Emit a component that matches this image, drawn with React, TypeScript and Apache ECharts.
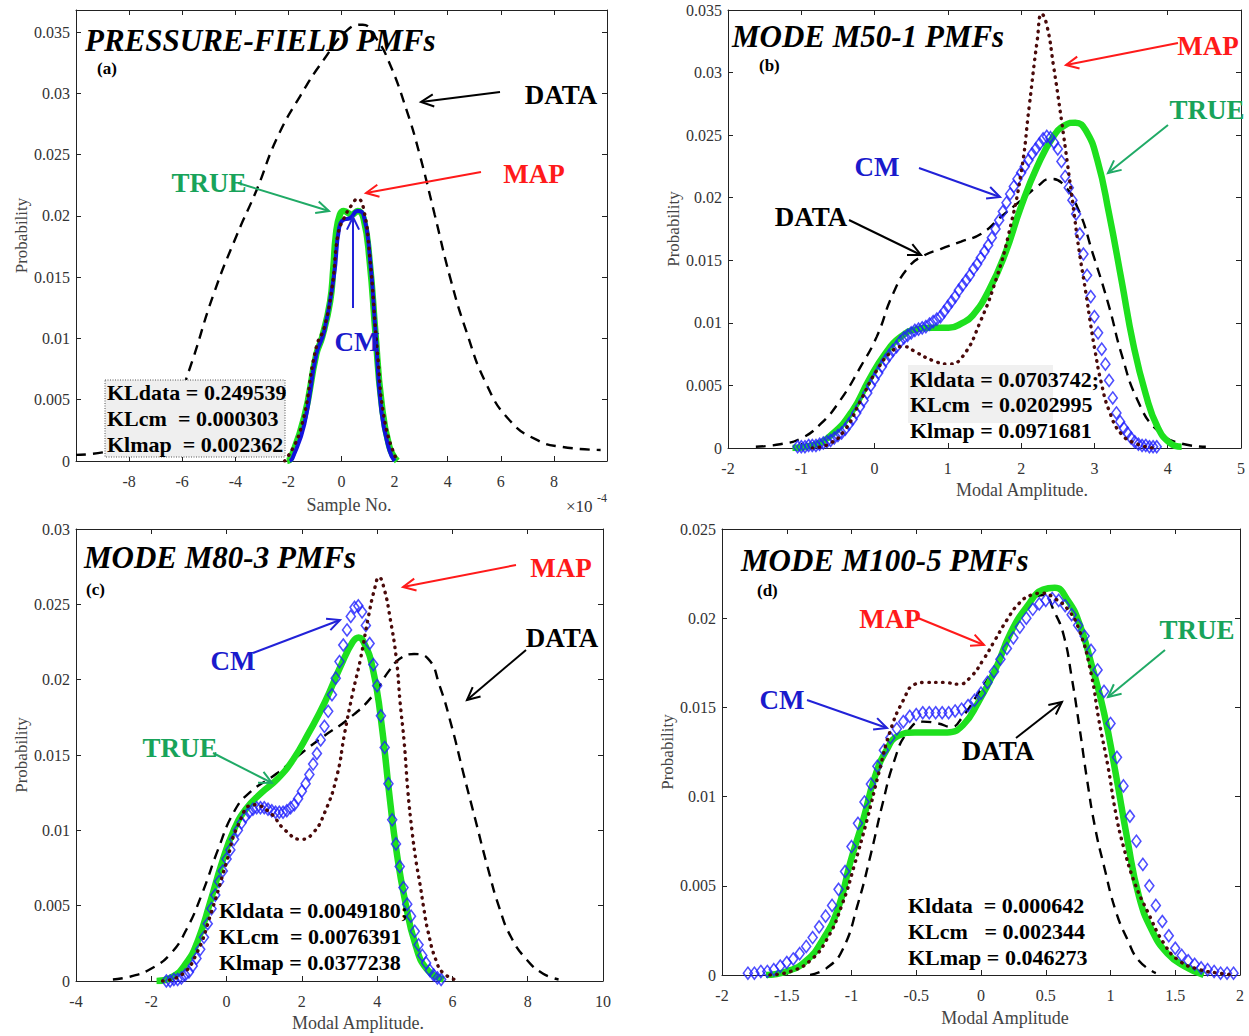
import React, { useEffect, useRef } from "react";
import * as echarts from "echarts";

const FONT = '"Liberation Serif", "Times New Roman", serif';

// ---------- Panel (a): PRESSURE-FIELD PMFs (x in units of 1e-4) ----------
const A_DATA = [[-10, 0.0005], [-9, 0.0007], [-8, 0.0013], [-7, 0.0027], [-6.2, 0.005], [-5.74, 0.0074], [-4.82, 0.0136], [-3.93, 0.0185], [-3.18, 0.0222], [-2.44, 0.0263], [-1.55, 0.0298], [-0.65, 0.0328], [0.24, 0.0352], [0.8, 0.0356], [1.3, 0.0345], [1.8, 0.0325], [2.47, 0.0285], [2.92, 0.0252], [3.51, 0.0201], [4.1, 0.0149], [4.7, 0.0106], [5.45, 0.0063], [6.34, 0.0033], [7.38, 0.0017], [8.27, 0.00116], [9.76, 0.0009]];
const A_TRUE = [[-2.05, 0], [-1.92, 0.0002], [-1.4, 0.0036], [-0.95, 0.0087], [-0.73, 0.0101], [-0.43, 0.013], [-0.31, 0.0157], [-0.21, 0.0185], [-0.06, 0.0201], [0.09, 0.0204], [0.39, 0.0201], [0.61, 0.0204], [0.83, 0.0198], [1.06, 0.0163], [1.28, 0.0104], [1.5, 0.0049], [1.8, 0.0012], [2.1, 0]];
const A_CM = [[-1.95, 0], [-1.85, 0.0002], [-1.4, 0.003], [-0.95, 0.0087], [-0.65, 0.0106], [-0.28, 0.0152], [-0.09, 0.019], [0.09, 0.0197], [0.31, 0.0198], [0.61, 0.0204], [0.83, 0.0201], [1.06, 0.0168], [1.28, 0.0106], [1.5, 0.0041], [1.8, 0.0009], [2.0, 0]];
const A_MAP = [[-2.14, 0], [-1.55, 0.0025], [-0.95, 0.0093], [-0.65, 0.0109], [-0.36, 0.0141], [-0.13, 0.0185], [0.09, 0.0198], [0.39, 0.0209], [0.61, 0.0214], [0.83, 0.0206], [1.06, 0.0168], [1.35, 0.009], [1.65, 0.003], [2.1, 0]];

// ---------- Panel (b): MODE M50-1 PMFs ----------
const B_DATA = [[-1.62, 0.0001], [-1.29, 0.0003], [-1.01, 0.00075], [-0.74, 0.0019], [-0.47, 0.0038], [-0.19, 0.0065], [0.03, 0.0089], [0.25, 0.0123], [0.47, 0.0145], [0.68, 0.0154], [0.9, 0.0159], [1.18, 0.0165], [1.45, 0.0171], [1.73, 0.0185], [2.0, 0.0198], [2.22, 0.0209], [2.4, 0.0215], [2.55, 0.0212], [2.77, 0.0192], [2.98, 0.0155], [3.2, 0.0113], [3.37, 0.0075], [3.59, 0.0038], [3.86, 0.0014], [4.19, 0.00035], [4.52, 0.0001]];
const B_TRUE = [[-1.12, 0], [-0.85, 0.0002], [-0.58, 0.0011], [-0.3, 0.003], [-0.08, 0.0054], [0.14, 0.0075], [0.36, 0.0089], [0.58, 0.0095], [0.79, 0.0096], [1.01, 0.0096], [1.2, 0.01], [1.34, 0.0106], [1.56, 0.0126], [1.78, 0.0155], [2.0, 0.0193], [2.22, 0.0225], [2.44, 0.0249], [2.6, 0.0258], [2.74, 0.026], [2.88, 0.0254], [3.04, 0.023], [3.2, 0.0187], [3.37, 0.0134], [3.53, 0.0083], [3.7, 0.0043], [3.86, 0.0017], [4.03, 0.0004], [4.19, 0.0001]];
const B_CM = [[-1.05, 0.0001], [-1.0, 0.0001], [-0.95, 0.0001], [-0.9, 0.0002], [-0.85, 0.0002], [-0.8, 0.0002], [-0.75, 0.0003], [-0.7, 0.0004], [-0.65, 0.0005], [-0.6, 0.0006], [-0.55, 0.0008], [-0.5, 0.001], [-0.45, 0.0012], [-0.4, 0.0015], [-0.35, 0.0019], [-0.3, 0.0023], [-0.25, 0.0028], [-0.2, 0.0033], [-0.15, 0.0038], [-0.1, 0.0044], [-0.05, 0.005], [0.0, 0.0055], [0.05, 0.006], [0.1, 0.0065], [0.15, 0.007], [0.2, 0.0074], [0.25, 0.0078], [0.3, 0.0081], [0.35, 0.0085], [0.4, 0.0088], [0.45, 0.009], [0.5, 0.0092], [0.55, 0.0094], [0.6, 0.0095], [0.65, 0.0096], [0.7, 0.0097], [0.75, 0.0099], [0.8, 0.0101], [0.85, 0.0103], [0.9, 0.0105], [0.95, 0.0109], [1.0, 0.0113], [1.05, 0.0117], [1.1, 0.0121], [1.15, 0.0126], [1.2, 0.013], [1.25, 0.0134], [1.3, 0.0138], [1.35, 0.0143], [1.4, 0.0147], [1.45, 0.0152], [1.5, 0.0157], [1.55, 0.0162], [1.6, 0.0168], [1.65, 0.0175], [1.7, 0.0182], [1.75, 0.0189], [1.8, 0.0196], [1.85, 0.0203], [1.9, 0.0209], [1.95, 0.0215], [2.0, 0.022], [2.05, 0.0225], [2.1, 0.023], [2.15, 0.0235], [2.2, 0.0239], [2.25, 0.0243], [2.3, 0.0247], [2.35, 0.0249], [2.4, 0.0248], [2.45, 0.0244], [2.5, 0.0239], [2.55, 0.0229], [2.6, 0.0217], [2.65, 0.0208], [2.7, 0.0198], [2.75, 0.0187], [2.8, 0.0171], [2.85, 0.0155], [2.9, 0.0138], [2.95, 0.0121], [3.0, 0.0105], [3.05, 0.0092], [3.1, 0.0079], [3.15, 0.0067], [3.2, 0.0054], [3.25, 0.004], [3.3, 0.0028], [3.35, 0.0021], [3.4, 0.0016], [3.45, 0.0012], [3.5, 0.0008], [3.55, 0.0005], [3.6, 0.0003], [3.65, 0.0002], [3.7, 0.0002], [3.75, 0.0001], [3.8, 0.0001], [3.85, 0.0001]];
const B_MAP = [[-0.85, 0], [-0.63, 0.0003], [-0.41, 0.0014], [-0.19, 0.0038], [0.03, 0.0062], [0.25, 0.0078], [0.4, 0.0081], [0.58, 0.0076], [0.79, 0.007], [1.01, 0.0067], [1.2, 0.0073], [1.45, 0.0102], [1.67, 0.0137], [1.83, 0.0171], [2.0, 0.022], [2.11, 0.0273], [2.22, 0.0326], [2.28, 0.0347], [2.35, 0.0338], [2.44, 0.0306], [2.55, 0.0262], [2.63, 0.0228], [2.71, 0.0193], [2.79, 0.0158], [2.88, 0.0125], [2.95, 0.0098], [3.01, 0.0077], [3.09, 0.0053], [3.2, 0.003], [3.37, 0.0011], [3.59, 0.0003], [3.8, 0]];

// ---------- Panel (c): MODE M80-3 PMFs ----------
const C_DATA = [[-3.02, 0.0001], [-2.55, 0.0003], [-2.02, 0.0008], [-1.49, 0.0018], [-1.07, 0.0034], [-0.65, 0.0058], [-0.23, 0.0087], [0.19, 0.0112], [0.61, 0.0125], [1.35, 0.0138], [1.98, 0.0151], [2.61, 0.0163], [3.24, 0.0174], [3.87, 0.0189], [4.29, 0.0205], [4.61, 0.0214], [4.98, 0.0217], [5.35, 0.0214], [5.66, 0.0196], [5.98, 0.0169], [6.29, 0.0138], [6.61, 0.0107], [6.93, 0.0076], [7.24, 0.0049], [7.56, 0.0029], [7.98, 0.0014], [8.4, 0.0005], [8.82, 0.0001]];
const C_TRUE = [[-1.86, 0], [-1.49, 0.0002], [-1.07, 0.0012], [-0.76, 0.0027], [-0.44, 0.0052], [-0.13, 0.0078], [0.19, 0.01], [0.51, 0.0114], [0.93, 0.0125], [1.35, 0.0134], [1.77, 0.0147], [2.19, 0.0165], [2.61, 0.0185], [3.03, 0.0209], [3.35, 0.0225], [3.51, 0.0228], [3.66, 0.0224], [3.87, 0.0209], [4.08, 0.0178], [4.35, 0.0118], [4.51, 0.0087], [4.72, 0.0056], [5.03, 0.0023], [5.35, 0.0007], [5.77, 0.0001]];
const C_CM = [[-1.6, 0], [-1.5, 0], [-1.4, 0.0001], [-1.3, 0.0001], [-1.2, 0.0002], [-1.1, 0.0004], [-1.0, 0.0006], [-0.9, 0.001], [-0.8, 0.0015], [-0.7, 0.0021], [-0.6, 0.0029], [-0.5, 0.0038], [-0.4, 0.0048], [-0.3, 0.0057], [-0.2, 0.0066], [-0.1, 0.0073], [0.0, 0.0081], [0.1, 0.0087], [0.2, 0.0094], [0.3, 0.01], [0.4, 0.0105], [0.5, 0.0109], [0.6, 0.0112], [0.7, 0.0114], [0.8, 0.0115], [0.9, 0.0115], [1.0, 0.0115], [1.1, 0.0114], [1.2, 0.0113], [1.3, 0.0112], [1.4, 0.0112], [1.5, 0.0112], [1.6, 0.0113], [1.7, 0.0115], [1.8, 0.0117], [1.9, 0.0121], [2.0, 0.0126], [2.1, 0.0131], [2.2, 0.0137], [2.3, 0.0144], [2.4, 0.0151], [2.5, 0.016], [2.6, 0.0169], [2.7, 0.0179], [2.8, 0.019], [2.9, 0.0201], [3.0, 0.0212], [3.1, 0.0223], [3.2, 0.0233], [3.3, 0.0242], [3.4, 0.0248], [3.5, 0.0249], [3.6, 0.0245], [3.7, 0.0236], [3.8, 0.0224], [3.9, 0.021], [4.0, 0.0196], [4.1, 0.0176], [4.2, 0.0155], [4.3, 0.0131], [4.4, 0.0107], [4.5, 0.0091], [4.6, 0.0076], [4.7, 0.0062], [4.8, 0.0051], [4.9, 0.0043], [5.0, 0.0033], [5.1, 0.0024], [5.2, 0.0017], [5.3, 0.0012], [5.4, 0.0007], [5.5, 0.0004], [5.6, 0.0002], [5.7, 0.0001]];
const C_MAP = [[-1.7, 0], [-1.2, 0.0004], [-0.8, 0.0018], [-0.4, 0.0046], [0.0, 0.0079], [0.3, 0.0103], [0.72, 0.0117], [1.14, 0.0112], [1.56, 0.01], [1.98, 0.0094], [2.29, 0.0098], [2.61, 0.0112], [2.93, 0.0136], [3.14, 0.0165], [3.35, 0.0191], [3.56, 0.0214], [3.77, 0.0242], [3.93, 0.026], [4.05, 0.0268], [4.19, 0.026], [4.35, 0.024], [4.51, 0.0214], [4.61, 0.0185], [4.72, 0.0158], [4.82, 0.0125], [4.93, 0.0099], [5.03, 0.008], [5.14, 0.0064], [5.24, 0.0048], [5.35, 0.0033], [5.56, 0.0014], [5.77, 0.0005], [6.19, 0]];

// ---------- Panel (d): MODE M100-5 PMFs ----------
const D_DATA = [[-1.32, 0], [-1.19, 0.0004], [-1.07, 0.0014], [-0.95, 0.004], [-0.85, 0.0068], [-0.76, 0.0096], [-0.67, 0.012], [-0.57, 0.0136], [-0.45, 0.0142], [-0.33, 0.0141], [-0.23, 0.0139], [-0.14, 0.0145], [-0.02, 0.0158], [0.11, 0.0173], [0.23, 0.0192], [0.33, 0.0205], [0.42, 0.0212], [0.48, 0.0213], [0.57, 0.0203], [0.64, 0.019], [0.7, 0.0167], [0.76, 0.0139], [0.82, 0.0109], [0.88, 0.0083], [0.95, 0.0061], [1.04, 0.0036], [1.13, 0.002], [1.22, 0.0008], [1.35, 0.0001]];
const D_TRUE = [[-1.66, 0], [-1.5, 0.0002], [-1.35, 0.0008], [-1.22, 0.002], [-1.1, 0.0038], [-1.01, 0.0063], [-0.91, 0.0087], [-0.82, 0.0111], [-0.73, 0.0126], [-0.64, 0.0134], [-0.51, 0.0136], [-0.39, 0.0136], [-0.26, 0.0136], [-0.14, 0.014], [-0.02, 0.0153], [0.11, 0.0171], [0.23, 0.0192], [0.36, 0.0207], [0.48, 0.0216], [0.57, 0.0217], [0.67, 0.021], [0.76, 0.0197], [0.85, 0.0175], [0.95, 0.0147], [1.04, 0.0113], [1.13, 0.0076], [1.22, 0.0044], [1.32, 0.0025], [1.44, 0.0012], [1.57, 0.0005], [1.72, 0]];
const D_CM = [[-1.8, 0.0001], [-1.75, 0.0001], [-1.7, 0.0002], [-1.65, 0.0002], [-1.6, 0.0003], [-1.55, 0.0005], [-1.5, 0.0007], [-1.45, 0.0009], [-1.4, 0.0012], [-1.35, 0.0016], [-1.3, 0.0021], [-1.25, 0.0027], [-1.2, 0.0033], [-1.15, 0.0039], [-1.1, 0.0048], [-1.05, 0.0058], [-1.0, 0.0072], [-0.95, 0.0085], [-0.9, 0.0097], [-0.85, 0.0107], [-0.8, 0.0117], [-0.75, 0.0126], [-0.7, 0.0133], [-0.65, 0.0138], [-0.6, 0.0142], [-0.55, 0.0145], [-0.5, 0.0146], [-0.45, 0.0147], [-0.4, 0.0147], [-0.35, 0.0147], [-0.3, 0.0147], [-0.25, 0.0147], [-0.2, 0.0148], [-0.15, 0.0149], [-0.1, 0.0151], [-0.05, 0.0154], [0.0, 0.0158], [0.05, 0.0164], [0.1, 0.017], [0.15, 0.0177], [0.2, 0.0183], [0.25, 0.0189], [0.3, 0.0195], [0.35, 0.02], [0.4, 0.0205], [0.45, 0.0208], [0.5, 0.021], [0.55, 0.0211], [0.6, 0.021], [0.65, 0.0207], [0.7, 0.0202], [0.75, 0.0196], [0.8, 0.019], [0.85, 0.0182], [0.9, 0.0171], [0.95, 0.0159], [1.0, 0.0141], [1.05, 0.0122], [1.1, 0.0106], [1.15, 0.0089], [1.2, 0.0075], [1.25, 0.0062], [1.3, 0.005], [1.35, 0.0039], [1.4, 0.003], [1.45, 0.0022], [1.5, 0.0015], [1.55, 0.0011], [1.6, 0.0008], [1.65, 0.0006], [1.7, 0.0004], [1.75, 0.0003], [1.8, 0.0002], [1.85, 0.0001], [1.9, 0.0001], [1.95, 0.0001]];
const D_MAP = [[-1.63, 0], [-1.47, 0.0002], [-1.32, 0.0008], [-1.19, 0.002], [-1.07, 0.004], [-0.98, 0.0061], [-0.88, 0.0087], [-0.79, 0.0113], [-0.7, 0.0137], [-0.6, 0.0154], [-0.51, 0.0163], [-0.42, 0.0164], [-0.29, 0.0164], [-0.17, 0.0163], [-0.08, 0.0167], [0.02, 0.0177], [0.11, 0.0188], [0.2, 0.0199], [0.29, 0.0208], [0.39, 0.0213], [0.48, 0.0214], [0.57, 0.0211], [0.67, 0.0205], [0.76, 0.0193], [0.85, 0.0169], [0.91, 0.0143], [0.98, 0.0117], [1.04, 0.0091], [1.1, 0.0072], [1.19, 0.0051], [1.29, 0.0035], [1.41, 0.0018], [1.53, 0.0008], [1.69, 0.0003], [1.84, 0.0001], [1.96, 0]];

// ---------- Texts ----------
const NB = "\u00a0";
const TITLES = ["PRESSURE-FIELD PMFs", "MODE M50-1 PMFs", "MODE M80-3 PMFs", "MODE M100-5 PMFs"];
const SUBLABELS = ["(a)", "(b)", "(c)", "(d)"];
const KL_LINES = [
  ["KLdata = 0.249539", "KLcm" + NB + NB + "= 0.000303", "Klmap" + NB + NB + "= 0.002362"],
  ["Kldata = 0.0703742;", "KLcm" + NB + NB + "= 0.0202995", "Klmap = 0.0971681"],
  ["Kldata = 0.0049180;", "KLcm" + NB + NB + "= 0.0076391", "Klmap = 0.0377238"],
  ["Kldata" + NB + NB + "= 0.000642", "KLcm" + NB + NB + NB + "= 0.002344", "KLmap = 0.046273"],
];
const X_NAMES = ["Sample No.", "Modal Amplitude.", "Modal Amplitude.", "Modal Amplitude"];

const PANELS = [
  { grid: { left: 76, top: 10, width: 531, height: 451 }, xMin: -10, xMax: 10, xInt: 2, yMax: 0.0368, hideXEnds: true, hideYMax: true, data: A_DATA, truth: A_TRUE, cm: A_CM, map: A_MAP, cmLine: true, nameGapY: 45 },
  { grid: { left: 728, top: 10, width: 513, height: 438 }, xMin: -2, xMax: 5, xInt: 1, yMax: 0.035, hideXEnds: false, hideYMax: false, data: B_DATA, truth: B_TRUE, cm: B_CM, map: B_MAP, cmLine: false, nameGapY: 43 },
  { grid: { left: 76, top: 529, width: 527, height: 452 }, xMin: -4, xMax: 10, xInt: 2, yMax: 0.03, hideXEnds: false, hideYMax: false, data: C_DATA, truth: C_TRUE, cm: C_CM, map: C_MAP, cmLine: false, nameGapY: 45 },
  { grid: { left: 722, top: 529, width: 518, height: 446 }, xMin: -2, xMax: 2, xInt: 0.5, yMax: 0.025, hideXEnds: false, hideYMax: false, data: D_DATA, truth: D_TRUE, cm: D_CM, map: D_MAP, cmLine: false, nameGapY: 43 },
];

// layout of overlay texts (pixels)
const TITLE_POS = [[85, 40], [732, 36], [84, 557], [741, 560]];
const SUB_POS = [[97, 68], [759, 65], [86, 589], [757, 590]];
const KL_POS = [
  { left: 107, ys: [392, 418, 444] },
  { left: 910, ys: [379, 404, 430] },
  { left: 219, ys: [910, 936, 962] },
  { left: 908, ys: [905, 931, 957] },
];
const XNAME_POS = [[349, 505], [1022, 490], [358, 1023], [1005, 1018]];

const C_TRUE_TXT = "#18a35a";
const C_TRUE_ARR = "#20aa66";
const C_MAP_TXT = "#ff1a1a";
const C_CM_TXT = "#1a1acc";
const ANNOTATIONS = [
  // [text, color, tx, ty, x1, y1, x2, y2]
  ["DATA", "#000", 561, 95, 500, 92, 421, 102],
  ["TRUE", C_TRUE_TXT, 209, 183, 238, 183, 329, 211],
  ["MAP", C_MAP_TXT, 534, 174, 481, 172, 366, 193],
  ["CM", C_CM_TXT, 357, 342, 353, 308, 353, 217],
  ["MAP", C_MAP_TXT, 1208, 46, 1178, 43, 1066, 65],
  ["TRUE", C_TRUE_TXT, 1207, 110, 1168, 125, 1108, 173],
  ["CM", C_CM_TXT, 877, 167, 919, 168, 1000, 197],
  ["DATA", "#000", 811, 217, 849, 220, 921, 255],
  ["MAP", C_MAP_TXT, 561, 568, 516, 565, 403, 587],
  ["DATA", "#000", 562, 638, 526, 650, 467, 700],
  ["CM", C_CM_TXT, 233, 661, 253, 653, 340, 620],
  ["TRUE", C_TRUE_TXT, 180, 748, 213, 753, 272, 783],
  ["MAP", C_MAP_TXT, 890, 619, 918, 618, 984, 645],
  ["TRUE", C_TRUE_TXT, 1197, 630, 1165, 650, 1108, 697],
  ["CM", C_CM_TXT, 782, 700, 807, 700, 887, 728],
  ["DATA", "#000", 998, 751, 1016, 738, 1062, 702],
];

function arrowColor(c: string) {
  if (c === C_TRUE_TXT) return C_TRUE_ARR;
  if (c === C_CM_TXT) return "#2222d8";
  return c;
}

function arrow(x1: number, y1: number, x2: number, y2: number, color: string) {
  const ang = Math.atan2(y2 - y1, x2 - x1);
  const L = 14;
  const a = 0.45;
  const p1 = [x2 - L * Math.cos(ang - a), y2 - L * Math.sin(ang - a)];
  const p2 = [x2 - L * Math.cos(ang + a), y2 - L * Math.sin(ang + a)];
  return [
    { type: "line", z: 60, silent: true, shape: { x1, y1, x2, y2 }, style: { stroke: color, lineWidth: 2 } },
    { type: "polyline", z: 60, silent: true, shape: { points: [p1, [x2, y2], p2] }, style: { stroke: color, lineWidth: 2, fill: null } },
  ];
}

function text(t: string, x: number, y: number, opts: any) {
  return {
    type: "text",
    z: 70,
    silent: true,
    x,
    y,
    style: {
      text: t,
      fontFamily: FONT,
      verticalAlign: "middle",
      align: "left",
      ...opts,
    },
  };
}

export default function App() {
  const ref = useRef<HTMLDivElement>(null);

  useEffect(() => {
    if (!ref.current) return;
    const chart = echarts.init(ref.current, null, { renderer: "svg" });

    const grids: any[] = [];
    const xAxes: any[] = [];
    const yAxes: any[] = [];
    const series: any[] = [];
    const AX = "#222";

    PANELS.forEach((p, i) => {
      grids.push({ ...p.grid, containLabel: false });
      const tick = { show: true, inside: true, length: 5, lineStyle: { color: AX, width: 1 } };
      const line = { show: true, onZero: false, lineStyle: { color: AX, width: 1 } };
      xAxes.push({
        type: "value", gridIndex: i, position: "bottom", min: p.xMin, max: p.xMax, interval: p.xInt,
        axisLine: line, axisTick: tick, splitLine: { show: false },
        axisLabel: { color: "#333", fontFamily: FONT, fontSize: 16, margin: 12, showMinLabel: !p.hideXEnds, showMaxLabel: !p.hideXEnds },
      });
      xAxes.push({
        type: "value", gridIndex: i, position: "top", min: p.xMin, max: p.xMax, interval: p.xInt,
        axisLine: line, axisTick: tick, splitLine: { show: false }, axisLabel: { show: false },
      });
      yAxes.push({
        type: "value", gridIndex: i, position: "left", min: 0, max: p.yMax, interval: 0.005,
        axisLine: line, axisTick: tick, splitLine: { show: false },
        axisLabel: { color: "#333", fontFamily: FONT, fontSize: 16, margin: 6, showMaxLabel: !p.hideYMax },
        name: "Probability", nameLocation: "middle", nameGap: p.nameGapY,
        nameTextStyle: { color: "#444", fontFamily: FONT, fontSize: 17 },
      });
      yAxes.push({
        type: "value", gridIndex: i, position: "right", min: 0, max: p.yMax, interval: 0.005,
        axisLine: line, axisTick: tick, splitLine: { show: false }, axisLabel: { show: false },
      });

      const xi = 2 * i;
      const yi = 2 * i;
      series.push({
        name: "DATA", type: "line", xAxisIndex: xi, yAxisIndex: yi, data: p.data, showSymbol: false, symbol: "none",
        smooth: 0.5, z: 2, silent: true,
        lineStyle: { color: "#000", width: 2.4, type: [10, 7] },
      });
      series.push({
        name: "TRUE", type: "line", xAxisIndex: xi, yAxisIndex: yi, data: p.truth, showSymbol: false, symbol: "none",
        smooth: 0.5, z: 3, silent: true,
        lineStyle: { color: "#1ee01e", width: 6.5 },
      });
      if (p.cmLine) {
        series.push({
          name: "CM", type: "line", xAxisIndex: xi, yAxisIndex: yi, data: p.cm, showSymbol: false, symbol: "none",
          smooth: 0.5, z: 4, silent: true,
          lineStyle: { color: "#1212dd", width: 4 },
        });
      } else {
        series.push({
          name: "CM", type: "scatter", xAxisIndex: xi, yAxisIndex: yi, data: p.cm, symbol: "diamond",
          symbolSize: [9, 12], z: 4, silent: true,
          itemStyle: { color: "rgba(255,255,255,0)", borderColor: "#2020ff", borderWidth: 1.6 },
        });
      }
      series.push({
        name: "MAP", type: "line", xAxisIndex: xi, yAxisIndex: yi, data: p.map, showSymbol: false, symbol: "none",
        smooth: 0.5, z: 5, silent: true,
        lineStyle: { color: "#4a0a0a", width: 3.4, type: [0.5, 6.5], cap: "round" },
      });
    });

    const graphic: any[] = [];
    TITLES.forEach((t, i) => {
      graphic.push(text(t, TITLE_POS[i][0], TITLE_POS[i][1], { fontSize: 31, fontWeight: "bold", fontStyle: "italic", fill: "#000" }));
      graphic.push(text(SUBLABELS[i], SUB_POS[i][0], SUB_POS[i][1], { fontSize: 17, fontWeight: "bold", fill: "#000" }));
      graphic.push(text(X_NAMES[i], XNAME_POS[i][0], XNAME_POS[i][1], { fontSize: 18, fill: "#444", align: "center" }));
    });
    graphic.push(text("\u00d710", 566, 506, { fontSize: 17, fill: "#333" }));
    graphic.push(text("-4", 597, 498, { fontSize: 12, fill: "#333" }));

    // KL boxes
    graphic.push({ type: "rect", z: 50, silent: true, shape: { x: 105, y: 380, width: 180, height: 77 }, style: { fill: "#efefef", stroke: "#555", lineWidth: 1, lineDash: [1, 1.5] } });
    graphic.push({ type: "rect", z: 50, silent: true, shape: { x: 908, y: 365, width: 145, height: 58 }, style: { fill: "#f0f0f0", stroke: null } });
    KL_POS.forEach((k, i) => {
      k.ys.forEach((y, j) => {
        graphic.push(text(KL_LINES[i][j], k.left, y, { fontSize: 22, fontWeight: "bold", fill: "#000" }));
      });
    });

    ANNOTATIONS.forEach((a: any) => {
      const [t, c, tx, ty, x1, y1, x2, y2] = a;
      graphic.push(text(t, tx, ty, { fontSize: 27, fontWeight: "bold", fill: c, align: "center" }));
      graphic.push(...arrow(x1, y1, x2, y2, arrowColor(c)));
    });

    chart.setOption({
      animation: false,
      backgroundColor: "#fff",
      grid: grids,
      xAxis: xAxes,
      yAxis: yAxes,
      series,
      graphic,
    });

    return () => chart.dispose();
  }, []);

  return (
    <div
      ref={ref}
      style={{ position: "absolute", left: 0, top: 0, width: 1249, height: 1036, background: "#fff" }}
    />
  );
}
